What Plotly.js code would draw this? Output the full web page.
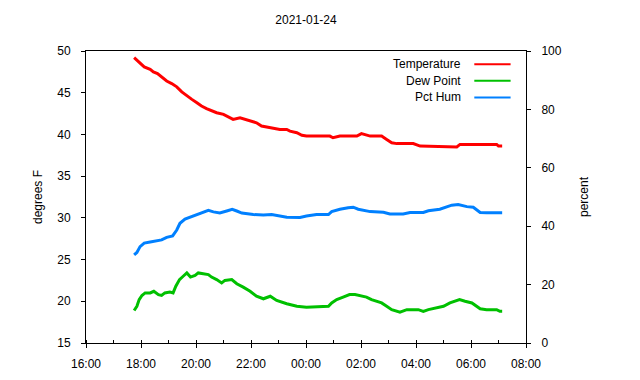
<!DOCTYPE html>
<html>
<head>
<meta charset="utf-8">
<script src="https://cdn.plot.ly/plotly-3.0.1.min.js"></script>
<style>html,body{margin:0;padding:0;background:#fff;}#chart{width:640px;height:380px;}</style>
</head>
<body>
<div id="chart"></div>
<script>
// Times (clock, evening of 2021-01-23 through morning of 2021-01-24)
const tempTimes = ["17:45","17:51","17:58","18:07","18:20","18:27","18:36","18:45","18:56","19:07","19:18","19:29","19:40","19:51","20:02","20:12","20:23","20:34","20:45","21:00","21:11","21:21","21:36","21:47","21:58","22:12","22:23","22:34","22:49","23:03","23:18","23:25","23:40","23:51","00:01","00:30","00:52","00:59","01:14","01:51","02:01","02:20","02:45","02:56","03:07","03:18","03:54","04:09","04:52","05:29","05:36","06:20","06:56","07:00","07:08"];
const tempF = [49.2,48.9,48.5,48.1,47.8,47.5,47.3,46.9,46.4,46.1,45.7,45.1,44.6,44.2,43.8,43.4,43.1,42.8,42.6,42.4,42.1,41.8,42.0,41.8,41.6,41.4,41.0,40.9,40.8,40.6,40.6,40.4,40.2,39.9,39.8,39.8,39.8,39.6,39.8,39.8,40.1,39.8,39.8,39.4,39.0,38.9,38.9,38.6,38.5,38.5,38.8,38.8,38.8,38.6,38.6];

const dewTimes = ["17:45","17:51","17:56","18:02","18:09","18:20","18:28","18:38","18:45","18:52","19:03","19:10","19:16","19:24","19:32","19:40","19:48","19:58","20:05","20:16","20:27","20:34","20:45","20:56","21:03","21:18","21:29","21:43","21:58","22:12","22:27","22:42","22:56","23:18","23:40","00:01","00:30","00:49","00:56","01:07","01:21","01:35","01:47","02:01","02:12","02:23","02:45","02:56","03:07","03:25","03:40","04:05","04:16","04:27","04:45","05:00","05:14","05:35","05:47","06:02","06:20","06:34","06:56","07:03","07:08"];
const dewF = [18.9,19.4,20.2,20.7,21.0,21.0,21.2,20.8,20.7,21.0,21.1,21.0,21.8,22.6,23.0,23.4,22.9,23.1,23.4,23.3,23.2,22.9,22.6,22.2,22.5,22.6,22.1,21.7,21.2,20.6,20.3,20.6,20.1,19.7,19.4,19.3,19.4,19.4,19.8,20.2,20.5,20.8,20.8,20.6,20.5,20.2,19.8,19.4,19.0,18.7,19.0,19.0,18.8,19.0,19.2,19.4,19.8,20.2,20.0,19.8,19.1,19.0,19.0,18.8,18.8];

const humTimes = ["17:45","17:51","17:58","18:07","18:20","18:34","18:45","18:56","19:09","19:18","19:25","19:36","19:47","19:58","20:12","20:27","20:38","20:52","21:07","21:19","21:29","21:40","22:05","22:27","22:45","23:18","23:47","00:01","00:23","00:49","00:56","01:14","01:32","01:43","01:54","02:05","02:20","02:49","03:03","03:32","03:47","04:16","04:27","04:52","05:18","05:32","05:51","06:05","06:20","06:34","07:08"];
const humPct = [30.2,31.0,33.0,34.2,34.6,35.1,35.3,36.2,36.7,38.7,41.0,42.4,43.1,43.8,44.7,45.4,44.9,44.5,45.2,45.8,45.2,44.5,44.0,43.8,44.0,43.1,43.0,43.5,44.0,44.0,45.0,45.8,46.3,46.5,45.8,45.4,45.0,44.8,44.2,44.2,44.7,44.7,45.3,45.8,47.2,47.4,46.7,46.5,44.7,44.6,44.6];

const seriesNames = ["Temperature","Dew Point","Pct Hum"];
const seriesColors = ["#ff0000","#00c000","#0080ff"];
const chartTitle = "2021-01-24";
const xTickLabelsFormat = "%H:%M";

function toDate(t){
  const h = parseInt(t.slice(0,2),10);
  return (h >= 12 ? "2021-01-23 " : "2021-01-24 ") + t;
}

const font = {family: "Liberation Sans, Arial, sans-serif", size: 12, color: "#000"};

const traces = [
  {x: tempTimes.map(toDate), y: tempF, name: seriesNames[0], type: "scatter", mode: "lines",
   line: {color: seriesColors[0], width: 3}, yaxis: "y"},
  {x: dewTimes.map(toDate), y: dewF, name: seriesNames[1], type: "scatter", mode: "lines",
   line: {color: seriesColors[1], width: 3}, yaxis: "y"},
  {x: humTimes.map(toDate), y: humPct, name: seriesNames[2], type: "scatter", mode: "lines",
   line: {color: seriesColors[2], width: 3}, yaxis: "y2"}
];

// legend drawn gnuplot-style: right-aligned text, line sample to the right
const legY = [0.955, 0.898, 0.841];
const annotations = seriesNames.map((n,i)=>({
  text: n, xref: "paper", yref: "paper", x: 0.856, y: legY[i],
  xanchor: "right", yanchor: "middle", showarrow: false, font: font
}));
const shapes = seriesNames.map((n,i)=>({
  type: "line", xref: "paper", yref: "paper", x0: 0.8825, x1: 0.965, y0: legY[i], y1: legY[i],
  line: {color: seriesColors[i], width: 2}
}));

const layout = {
  width: 640, height: 380,
  margin: {l: 86, r: 114, t: 51, b: 37, pad: 0},
  paper_bgcolor: "#fff", plot_bgcolor: "#fff",
  font: font,
  showlegend: false,
  title: {text: chartTitle, font: font, xref: "paper", x: 0.5, xanchor: "center", yref: "container", y: 0.947, yanchor: "middle"},
  xaxis: {
    type: "date",
    range: ["2021-01-23 16:00", "2021-01-24 08:00"],
    dtick: 7200000, tick0: "2021-01-23 16:00",
    tickformat: xTickLabelsFormat,
    ticks: "outside", ticklen: 4, tickcolor: "#000", tickwidth: 1,
    minor: {dtick: 3600000, ticks: "inside", ticklen: 3, tickcolor: "#000", showgrid: false},
    showline: true, linecolor: "#000", linewidth: 1, mirror: true,
    showgrid: false, zeroline: false, tickfont: font, ticklabelstandoff: 6
  },
  yaxis: {
    range: [15, 50], dtick: 5, tick0: 15,
    ticks: "outside", ticklen: 4, tickcolor: "#000",
    showline: true, linecolor: "#000", linewidth: 1,
    showgrid: false, zeroline: false, tickfont: font, ticklabelstandoff: 8,
    title: {text: "degrees F", font: font, standoff: 12}
  },
  yaxis2: {
    range: [0, 100], dtick: 20, tick0: 0,
    overlaying: "y", side: "right",
    ticks: "outside", ticklen: 4, tickcolor: "#000",
    showline: true, linecolor: "#000", linewidth: 1,
    showgrid: false, zeroline: false, tickfont: font, ticklabelstandoff: 8,
    title: {text: "percent", font: font, standoff: 18}
  },
  annotations: annotations,
  shapes: shapes
};

Plotly.newPlot("chart", traces, layout, {displayModeBar: false, staticPlot: true});
</script>
</body>
</html>
